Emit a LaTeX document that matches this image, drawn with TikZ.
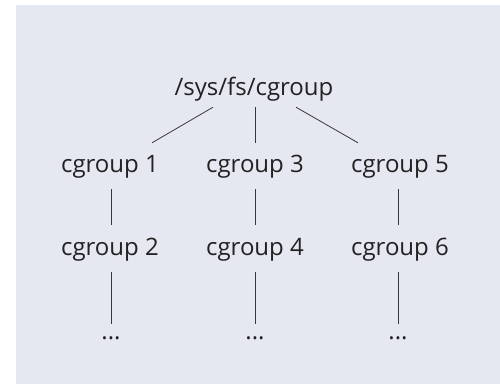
\documentclass[tikz,border=0pt]{standalone}
\usepackage{fontspec}
\setmainfont{Open Sans}
\definecolor{panel}{RGB}{229,232,240}
\definecolor{ink}{RGB}{34,34,34}
\begin{document}
\begin{tikzpicture}[x=1pt,y=-1pt,
  lbl/.style={anchor=base, inner sep=0pt, text=ink, font=\fontsize{24}{28}\selectfont,
              text height=18pt, text depth=5pt},
  edge/.style={draw=ink!90, line width=0.8pt}]
  % canvas and grey panel
  \useasboundingbox (0,0) rectangle (500,384);
  \fill[panel] (16,5) rectangle (500,384);

  % tree labels
  \node[lbl] (root) at (254,95) {/sys/fs/cgroup};
  \node[lbl] (c1) at (110,172) {cgroup 1};
  \node[lbl] (c3) at (255,172) {cgroup 3};
  \node[lbl] (c5) at (400,172) {cgroup 5};
  \node[lbl] (c2) at (110,255) {cgroup 2};
  \node[lbl] (c4) at (255,255) {cgroup 4};
  \node[lbl] (c6) at (400,255) {cgroup 6};
  \node[lbl] (d1) at (111,339) {...};
  \node[lbl] (d2) at (255,339) {...};
  \node[lbl] (d3) at (398,339) {...};

  % root to first level
  \draw[edge] ([shift={(-41pt,-7pt)}]root.south) -- ([shift={(42pt,11pt)}]c1.north);
  \draw[edge] ([shift={(1pt,-7pt)}]root.south) -- ([shift={(0pt,11pt)}]c3.north);
  \draw[edge] ([shift={(42pt,-7pt)}]root.south) -- ([shift={(-42pt,11pt)}]c5.north);

  % first level to second level
  \draw[edge] ([shift={(1pt,-12pt)}]c1.south) -- ([shift={(1pt,12pt)}]c2.north);
  \draw[edge] ([shift={(0pt,-12pt)}]c3.south) -- ([shift={(0pt,12pt)}]c4.north);
  \draw[edge] ([shift={(-2pt,-12pt)}]c5.south) -- ([shift={(-2pt,12pt)}]c6.north);

  % second level to continuation dots
  \draw[edge] ([shift={(1pt,-12pt)}]c2.south) -- ([shift={(0pt,-3pt)}]d1.north);
  \draw[edge] ([shift={(0pt,-12pt)}]c4.south) -- ([shift={(0pt,-3pt)}]d2.north);
  \draw[edge] ([shift={(-2pt,-12pt)}]c6.south) -- ([shift={(0pt,-3pt)}]d3.north);
\end{tikzpicture}
\end{document}
